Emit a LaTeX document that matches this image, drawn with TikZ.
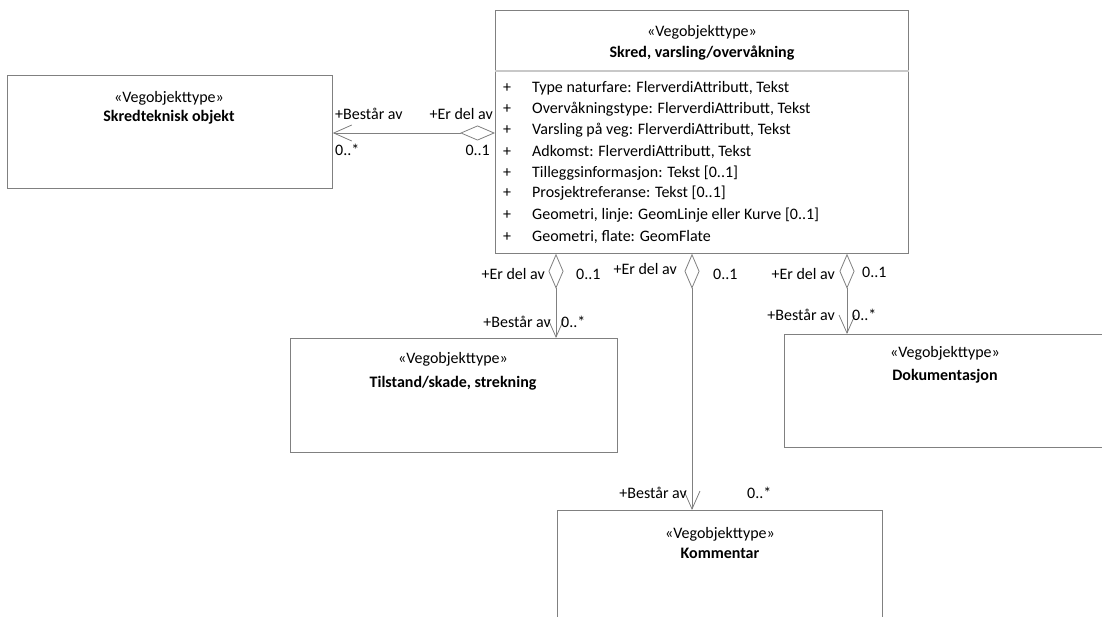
\documentclass[tikz,border=0pt]{standalone}
\usepackage{fontspec}
\setmainfont{Carlito}
\usetikzlibrary{arrows.meta,positioning}

\definecolor{linegray}{RGB}{128,128,128}
\definecolor{sepgray}{RGB}{200,200,200}

\tikzset{
  box/.style={draw=linegray, line width=0.8pt, rectangle, anchor=north west, inner sep=0pt},
  txt/.style={font=\fontsize{16}{19}\selectfont, inner sep=0pt, anchor=base},
  ttl/.style={txt, font=\fontsize{16}{19}\selectfont\bfseries},
  lbl/.style={txt, anchor=base west},
  lblr/.style={txt, anchor=base east},
  attr/.style={txt, anchor=base west},
  agg/.style={draw=linegray, line width=0.8pt, {Diamond[open,length=35pt,width=15pt]}-{Straight Barb[length=18pt,width=16pt]}},
}

\begin{document}
\begin{tikzpicture}[x=1pt,y=-1pt]
\useasboundingbox (0,0) rectangle (1102,617);
\clip (0,0) rectangle (1102,617);

% classes
\node[box, minimum width=413pt, minimum height=243pt] (main) at (495,10) {};
\node[box, minimum width=325pt, minimum height=113pt] (skredtek) at (7,75) {};
\node[box, minimum width=327pt, minimum height=114pt] (tilstand) at (290,338) {};
\node[box, minimum width=340pt, minimum height=113pt] (dokument) at (784,334) {};
\node[box, minimum width=325pt, minimum height=140pt] (kommentar) at (557,510) {};

\coordinate (sep) at (0,71);
\draw[sepgray, line width=1.6pt] (main.west |- sep) -- (main.east |- sep);

\node[txt] (mainst) at (702,37) {«Vegobjekttype»};
\node[ttl] (maintt) at (702,58) {Skred, varsling/overvåkning};
\node[txt] (skredst) at (169,103) {«Vegobjekttype»};
\node[ttl] (skredtt) at (169,122) {Skredteknisk objekt};
\node[txt] (tilst) at (453,363) {«Vegobjekttype»};
\node[ttl] (tiltt) at (453,387) {Tilstand/skade, strekning};
\node[txt] (dokst) at (945,357) {«Vegobjekttype»};
\node[ttl] (doktt) at (945,380) {Dokumentasjon};
\node[txt] (komst) at (720,538) {«Vegobjekttype»};
\node[ttl] (komtt) at (720,558) {Kommentar};

% attributes
\node[attr] (a1) at (503,93) {\makebox[29pt][l]{+}Type naturfare: FlerverdiAttributt, Tekst};
\node[attr] (a2) at (503,114) {\makebox[29pt][l]{+}Overvåkningstype: FlerverdiAttributt, Tekst};
\node[attr] (a3) at (503,135) {\makebox[29pt][l]{+}Varsling på veg: FlerverdiAttributt, Tekst};
\node[attr] (a4) at (503,157) {\makebox[29pt][l]{+}Adkomst: FlerverdiAttributt, Tekst};
\node[attr] (a5) at (503,178) {\makebox[29pt][l]{+}Tilleggsinformasjon: Tekst [0..1]};
\node[attr] (a6) at (503,198) {\makebox[29pt][l]{+}Prosjektreferanse: Tekst [0..1]};
\node[attr] (a7) at (503,220) {\makebox[29pt][l]{+}Geometri, linje: GeomLinje eller Kurve [0..1]};
\node[attr] (a8) at (503,242) {\makebox[29pt][l]{+}Geometri, flate: GeomFlate};

% associations
\coordinate (y0) at (0,133);
\coordinate (x1) at (556,0);
\coordinate (x2) at (692,0);
\coordinate (x3) at (847,0);
\draw[agg] (main.west |- y0) -- (skredtek.east |- y0);
\draw[agg] (main.south -| x1) -- (tilstand.north -| x1);
\draw[agg] (main.south -| x2) -- (kommentar.north -| x2);
\draw[agg] (main.south -| x3) -- (dokument.north -| x3);

% roles and multiplicities
\node[lbl] (l0a) at (335,120) {+Består av};
\node[lblr] (l0b) at (493,120) {+Er del av};
\node[lbl] (l0c) at (335,156) {0..*};
\node[lblr] (l0d) at (490,156) {0..1};

\node[lblr] (l1a) at (545,280) {+Er del av};
\node[lbl] (l1b) at (576,280) {0..1};
\node[lblr] (l1c) at (551,327) {+Består av};
\node[lbl] (l1d) at (561,327) {0..*};

\node[lblr] (l2a) at (677,275) {+Er del av};
\node[lbl] (l2b) at (713,280) {0..1};
\node[lblr] (l2c) at (687,498) {+Består av};
\node[lbl] (l2d) at (747,498) {0..*};

\node[lblr] (l3a) at (835,280) {+Er del av};
\node[lbl] (l3b) at (862,278) {0..1};
\node[lblr] (l3c) at (835,320) {+Består av};
\node[lbl] (l3d) at (852,320) {0..*};
\end{tikzpicture}
\end{document}
